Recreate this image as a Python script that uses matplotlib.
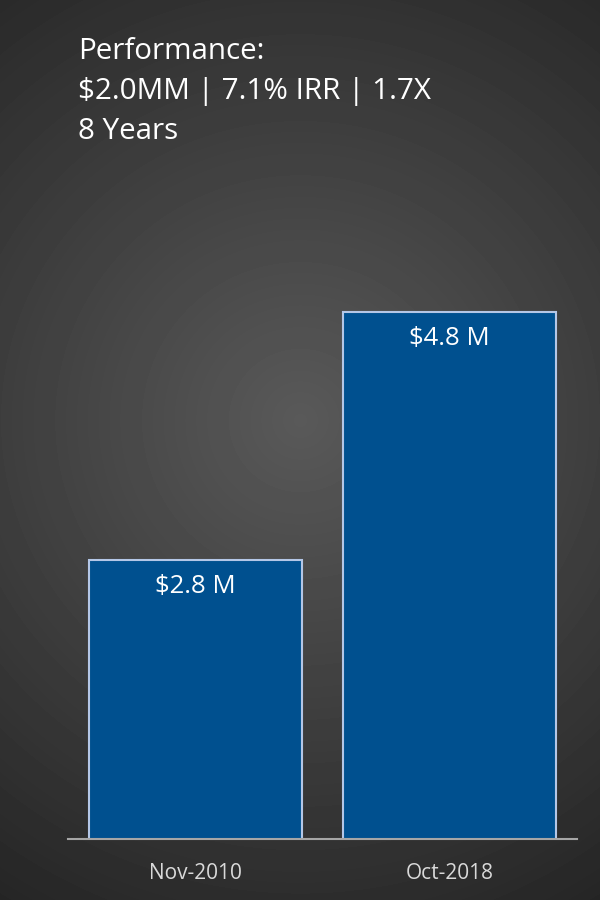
import numpy as np
import matplotlib
matplotlib.use("Agg")
import matplotlib.pyplot as plt

# chart data
dates = ["Nov-2010", "Oct-2018"]
values = [2.8, 4.8]
value_labels = ["$2.8 M", "$4.8 M"]
title_lines = ["Performance:", "$2.0MM | 7.1% IRR | 1.7X", "8 Years"]

plt.rcParams["font.family"] = ["Open Sans", "DejaVu Sans"]

fig = plt.figure(figsize=(6, 9), dpi=100)

# radial grey background, lighter in the middle
bg = fig.add_axes([0, 0, 1, 1])
yy, xx = np.mgrid[0:900, 0:600]
dist = np.sqrt((xx - 300) ** 2 + (yy - 420) ** 2)
shade = np.clip(0.35 - 0.00036 * dist, 0.14, 1)
bg.imshow(shade, cmap="gray", vmin=0, vmax=1, aspect="auto", interpolation="bilinear")
bg.axis("off")

ax = fig.add_axes([68 / 600, 61 / 900, 509 / 600, 549 / 900])
ax.patch.set_alpha(0)
x = np.arange(len(dates))
bars = ax.bar(x, values, width=0.835, color="#00508F",
              edgecolor="#B4C7E7", linewidth=1.5)
ax.set_xlim(-0.5, 1.5)
ax.set_ylim(0.55, 4.98)

for b, lab in zip(bars, value_labels):
    ax.annotate(lab, (b.get_x() + b.get_width() / 2, b.get_height()),
                xytext=(0, -10), textcoords="offset points",
                ha="center", va="top", color="white", fontsize=18.5)

for s in ["top", "right", "left"]:
    ax.spines[s].set_visible(False)
ax.spines["bottom"].set_color("#a6a6a6")
ax.spines["bottom"].set_linewidth(1.5)
ax.set_yticks([])
ax.set_xticks(x)
ax.set_xticklabels(dates)
ax.tick_params(axis="x", length=0, pad=17, labelsize=15, labelcolor="#d9d9d9")

for i, line in enumerate(title_lines):
    fig.text(78 / 600, 1 - (59 + i * 40) / 900, line, color="white",
             fontsize=21.3, ha="left", va="baseline")

fig.savefig("out.png", dpi=100)
